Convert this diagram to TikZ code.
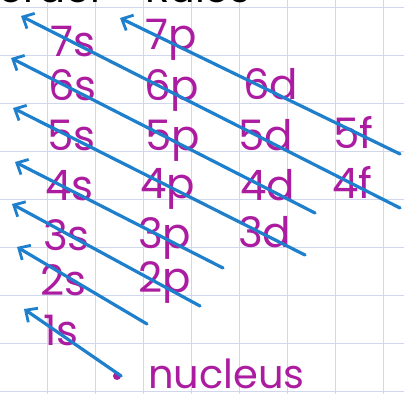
\documentclass[tikz,border=0pt]{standalone}
\usepackage{fontspec}
\setmainfont{Poppins}
\usetikzlibrary{arrows.meta}
\definecolor{ink}{RGB}{172,28,160}
\definecolor{pen}{RGB}{30,128,205}
\definecolor{gridc}{RGB}{208,214,236}
\begin{document}
\begin{tikzpicture}[x=1pt,y=-1pt,
  orb/.style={text=ink, font=\fontsize{42}{42}\selectfont, inner sep=0pt, anchor=base west},
  toptext/.style={text=black, font=\fontsize{40}{40}\selectfont, inner sep=0pt, anchor=base west},
  arr/.style={draw=pen, line width=3.2pt, line cap=round,
    -{Straight Barb[length=9pt,width=17pt,line width=2.8pt]}}]
\useasboundingbox (0,0) rectangle (404,394);
\clip (0,0) rectangle (404,394);
\fill[white] (0,0) rectangle (404,394);
\foreach \x in {47,95,...,383} \draw[gridc, line width=0.8pt] (\x,0) -- (\x,394);
\foreach \y in {7,55,...,391} \draw[gridc, line width=0.8pt] (0,\y) -- (404,\y);
% partly cut heading
\node[toptext] (h1) at (-2,2) {order};
\node[toptext] (h2) at (145,2) {Rules};
% orbital labels
\node[orb] (o7s) at (50,56) {7s};
\node[orb] (o7p) at (145,49) {7p};
\node[orb] (o6s) at (48,100) {6s};
\node[orb] (o6p) at (144,100) {6p};
\node[orb] (o6d) at (243,99) {6d};
\node[orb] (o5s) at (47,150) {5s};
\node[orb] (o5p) at (145,150) {5p};
\node[orb] (o5d) at (238,150) {5d};
\node[orb] (o5f) at (333,148) {5f};
\node[orb] (o4s) at (45,200) {4s};
\node[orb] (o4p) at (140,198) {4p};
\node[orb] (o4d) at (240,200) {4d};
\node[orb] (o4f) at (332,198) {4f};
\node[orb] (o3s) at (43,250) {3s};
\node[orb] (o3p) at (138,248) {3p};
\node[orb] (o3d) at (238,247) {3d};
\node[orb] (o2s) at (40,295) {2s};
\node[orb] (o2p) at (138,292) {2p};
\node[orb] (o1s) at (43,345) {1s};
\node[orb, font=\fontsize{40}{40}\selectfont] (nt) at (148,388) {nucleus};
\node[circle, fill=ink, inner sep=0pt, minimum size=8pt] (nuc) at (117,376) {};
% arrow ends
\coordinate (t1) at (24,309);
\coordinate (t2) at (17,247);
\coordinate (e2) at (147,324);
\coordinate (t3) at (12,204);
\coordinate (e3) at (200,306);
\coordinate (t4) at (15,162);
\coordinate (e4) at (223,268);
\coordinate (t5) at (13,108);
\coordinate (e5) at (305,255);
\coordinate (t6) at (11,58);
\coordinate (e6) at (315,213);
\coordinate (t7) at (21,16);
\coordinate (e7) at (400,208);
\coordinate (t8) at (120,18);
\coordinate (e8) at (400,154);
% arrows
\draw[arr] (nuc.east) -- (t1);
\draw[arr] (e2) -- (t2);
\draw[arr] (e3) -- (t3);
\draw[arr] (e4) -- (t4);
\draw[arr] (e5) -- (t5);
\draw[arr] (e6) -- (t6);
\draw[arr] (e7) -- (t7);
\draw[arr] (e8) -- (t8);
\end{tikzpicture}
\end{document}
